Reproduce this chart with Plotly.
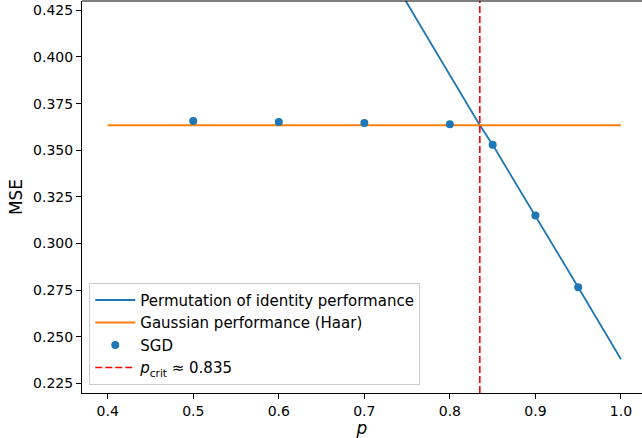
import plotly.graph_objects as go

# ---- data ----
p_line = [0.74, 0.75, 0.775, 0.8, 0.825, 0.835, 0.85, 0.875, 0.9, 0.925, 0.95, 0.975, 1.0]
mse_perm = [0.4362, 0.4288, 0.4095, 0.3903, 0.3710, 0.3634, 0.3529, 0.3340, 0.3150, 0.2958, 0.2766, 0.2573, 0.2380]
p_gauss = [0.4, 1.0]
mse_gauss = [0.3634, 0.3634]
p_sgd = [0.5, 0.6, 0.7, 0.8, 0.85, 0.9, 0.95]
mse_sgd = [0.3657, 0.3652, 0.3646, 0.3639, 0.3529, 0.3150, 0.2766]
p_crit = 0.835
x_ticks = [0.4, 0.5, 0.6, 0.7, 0.8, 0.9, 1.0]
y_ticks = [0.225, 0.250, 0.275, 0.300, 0.325, 0.350, 0.375, 0.400, 0.425]

FONT = "DejaVu Sans"
fig = go.Figure()
fig.add_trace(go.Scatter(x=p_line, y=mse_perm, mode="lines",
                         line=dict(color="#1f77b4", width=1.8),
                         name="Permutation of identity performance"))
fig.add_trace(go.Scatter(x=p_gauss, y=mse_gauss, mode="lines",
                         line=dict(color="#ff7f0e", width=1.8),
                         name="Gaussian performance (Haar)"))
fig.add_trace(go.Scatter(x=p_sgd, y=mse_sgd, mode="markers",
                         marker=dict(color="#1f77b4", size=8),
                         name="SGD"))
fig.add_shape(type="line", x0=p_crit, x1=p_crit, y0=0, y1=1, yref="y domain", xref="x",
              line=dict(color="red", width=1.6, dash="7px,3px"),
              showlegend=True, name="<i>p</i><sub>crit</sub> ≈ 0.835")
# top spine
fig.add_shape(type="line", x0=0, x1=1, y0=1, y1=1, xref="paper", yref="paper",
              line=dict(color="black", width=1.1), layer="above")

fig.update_layout(
    width=642, height=438,
    margin=dict(l=82, r=0, t=1, b=45),
    plot_bgcolor="white", paper_bgcolor="white",
    font=dict(family=FONT, size=14, color="black"),
    showlegend=True,
    legend=dict(x=0.013, y=0.021, xanchor="left", yanchor="bottom",
                bgcolor="rgba(255,255,255,0.8)", bordercolor="#cccccc", borderwidth=1,
                itemwidth=40,
                font=dict(family=FONT, size=15)),
    xaxis=dict(range=[0.36994, 1.0246], tickvals=x_ticks, tickformat=".1f",
               showgrid=False, zeroline=False, showline=True, linecolor="black", linewidth=1.1,
               ticks="outside", ticklen=5, tickwidth=1.1, tickcolor="black",
               title=dict(text="<i>p</i>", standoff=4)),
    yaxis=dict(range=[0.2199, 0.4300], tickvals=y_ticks, tickformat=".3f",
               showgrid=False, zeroline=False, showline=True, linecolor="black", linewidth=1.1,
               ticks="outside", ticklen=5, tickwidth=1.1, tickcolor="black",
               title=dict(text="MSE", standoff=6)),
)
fig.write_html("out.html")
